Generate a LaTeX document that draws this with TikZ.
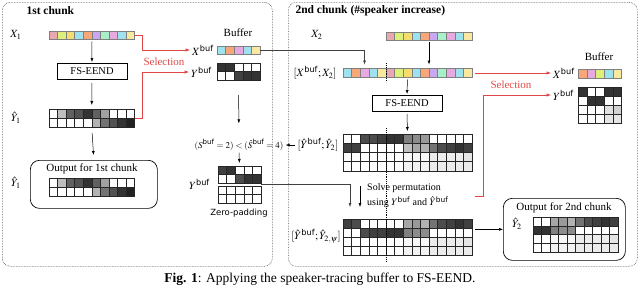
\documentclass[tikz,border=0pt]{standalone}
\usepackage{mathptmx}
\usepackage{amsmath}
\usepackage{fontspec}
\setmainfont{Liberation Serif}
\setsansfont{DejaVu Sans}
\usetikzlibrary{arrows.meta,calc}
\definecolor{cRose}{HTML}{E8A8B0}
\definecolor{cYG}{HTML}{DDF07A}
\definecolor{cYel}{HTML}{F5DC70}
\definecolor{cCyan}{HTML}{9EE2F0}
\definecolor{cOra}{HTML}{F8A878}
\definecolor{cLav}{HTML}{C8A8F0}
\definecolor{cMint}{HTML}{A8F0C8}
\definecolor{cOrc}{HTML}{E8A8E0}
\definecolor{cLY}{HTML}{F8E8A0}
\definecolor{redc}{HTML}{E04848}
\newcommand{\grayrow}[5]{%
  \foreach \v [count=\i from 0] in {#5} {%
    \filldraw[gcell, fill=black!\v] ({#1+\i*#3},{#2}) rectangle ++(#3,#4);
  }}
\newcommand{\colrow}[5]{%
  \foreach \c [count=\i from 0] in {#5} {%
    \filldraw[bcell, fill=\c] ({#1+\i*#3},{#2}) rectangle ++(#3,#4);
  }}
\newcommand{\bufsup}{\textsf{buf}}
\begin{document}
\begin{tikzpicture}[x=1pt,y=-1pt,
  font=\fontsize{11}{13}\selectfont,
  panel/.style={draw=black!70, densely dotted, line width=0.6pt, rounded corners=8pt, anchor=north west, inner sep=0pt},
  fsbox/.style={draw=black, line width=0.9pt, minimum width=70pt, minimum height=16pt, inner sep=0pt, font=\fontsize{10.5}{12}\selectfont},
  outbox/.style={draw=black, line width=0.7pt, rounded corners=9pt, anchor=north west, inner sep=0pt},
  area/.style={anchor=north west, inner sep=0pt, outer sep=0pt},
  gcell/.style={draw=black!85, line width=0.35pt},
  bcell/.style={draw=black!50, line width=0.4pt},
  arr/.style={-{Latex[length=4pt,width=3pt]}, line width=0.5pt},
  redarr/.style={-{Latex[length=4.5pt,width=3.5pt]}, line width=0.6pt, draw=redc},
  gline/.style={draw=black!75, line width=0.6pt},
  dotl/.style={densely dotted, line width=0.9pt},
  lab/.style={inner sep=1pt},
  title/.style={font=\fontsize{11.5}{13}\selectfont\bfseries},
  redlab/.style={text=redc, font=\fontsize{11}{13}\selectfont},
]
\useasboundingbox (0,0) rectangle (640,287);

% panels
\node[panel, minimum width=270pt, minimum height=264pt] (pan1) at (2,2) {};
\node[panel, minimum width=349pt, minimum height=264pt] (pan2) at (288,2) {};
\node[title, anchor=west] (t1) at (23,11) {1st chunk};
\node[title, anchor=west] (t2) at (292,11) {2nd chunk (\#speaker increase)};

% ---------------- left panel ----------------
\node[lab] (lX1) at (16,35) {$X_1$};
\node[area, minimum width=85.5pt, minimum height=8pt] (x1bar) at (49,31.5) {};
\colrow{49}{31.5}{8.55}{8}{cRose,cYG,cYel,cCyan,cOra,cLav,cMint,cOrc,cCyan,cLY}
\node[fsbox] (fs1) at (92,71.5) {FS-EEND};
\node[lab] (lY1) at (16,118) {$\hat{Y}_1$};
\node[area, minimum width=85.5pt, minimum height=18pt] (y1g) at (49,109) {};
\grayrow{49}{109}{8.55}{9}{0,25,62,68,80,62,37,0,0,0}
\grayrow{49}{118}{8.55}{9}{0,0,0,0,0,30,55,68,80,87}
\node[outbox, minimum width=127pt, minimum height=48pt] (out1) at (30,160) {};
\node (out1t) at (92,169) {Output for 1st chunk};
\node[lab] (lY1b) at (16,183) {$\hat{Y}_1$};
\node[area, minimum width=85.5pt, minimum height=18pt] (o1g) at (49,178) {};
\grayrow{49}{178}{8.55}{9}{0,25,62,68,80,62,37,0,0,0}
\grayrow{49}{187}{8.55}{9}{0,0,0,0,0,30,55,68,80,87}

\draw[arr, shorten <=2pt, shorten >=1pt] (x1bar.south) -- (fs1.north);
\draw[arr, shorten <=3pt, shorten >=4pt] (fs1.south) -- (y1g.north);
\draw[arr, shorten <=6pt, shorten >=5pt] (y1g.south) -- (out1.north);

% left buffer
\node (bufL) at (238,33) {Buffer};
\node[lab, anchor=west] (xbL) at (191,50) {$X^{\bufsup}$};
\node[lab, anchor=west] (ybL) at (190,72) {$Y^{\bufsup}$};
\node[area, minimum width=43pt, minimum height=8pt] (xbLbar) at (217,46) {};
\colrow{217}{46}{8.6}{8}{cCyan,cOra,cOrc,cCyan,cLY}
\node[area, minimum width=43pt, minimum height=17pt] (ybLg) at (217,63) {};
\grayrow{217}{63}{8.6}{8.5}{80,80,0,0,0}
\grayrow{217}{71.5}{8.6}{8.5}{0,0,75,80,80}

\draw[redarr, shorten >=1pt] (x1bar.east) -- ++(8,0) |- (xbL.west);
\draw[redarr, shorten >=1pt] (y1g.east) -- ++(8,0) |- (ybL.west);
\node[redlab] (sel1) at (164,62) {Selection};

% middle: comparison and zero padding
\node[lab, font=\fontsize{9}{11}\selectfont] (cmp) at (239,145) {$(S^{\bufsup}=2)<(\hat{S}^{\bufsup}=4)$};
\draw[arr, shorten <=15pt, shorten >=15pt] (ybLg.south) -- (cmp.north);
\node[lab, anchor=west] (ybMl) at (188,184) {$Y^{\bufsup}$};
\node[area, minimum width=43pt, minimum height=37pt] (ybM) at (218,166) {};
\draw[arr, shorten <=1pt, shorten >=3pt] (cmp.south) -- (ybM.north);
\grayrow{218}{166}{8.6}{8.5}{75,80,0,0,0}
\grayrow{218}{174.5}{8.6}{8.5}{0,0,70,80,80}
\grayrow{218}{186}{8.6}{8.5}{0,0,0,0,0}
\grayrow{218}{194.5}{8.6}{8.5}{0,0,0,0,0}
\node[font=\sffamily\fontsize{8.5}{10}\selectfont] (zp) at (239,213) {Zero-padding};

% ---------------- right panel ----------------
\node[lab] (lX2) at (317,35) {$X_2$};
\node[area, minimum width=86pt, minimum height=8pt] (x2bar) at (386,32) {};
\colrow{386}{32}{8.6}{8}{cRose,cYG,cYel,cCyan,cOra,cLav,cMint,cOrc,cCyan,cLY}
\node[lab] (lcat) at (315,73) {$[X^{\bufsup};X_2]$};
\node[area, minimum width=129pt, minimum height=9pt] (cat) at (343,68.5) {};
\colrow{343}{68.5}{8.6}{9}{cCyan,cOra,cOrc,cCyan,cLY,cRose,cYG,cYel,cCyan,cOra,cLav,cMint,cOrc,cCyan,cLY}
\coordinate (catbufN) at (364.5,68.5);
\draw[gline, arr, shorten >=4pt] (xbLbar.east) -| (catbufN);
\draw[arr, shorten <=2pt, shorten >=4pt] (x2bar.south) -- (x2bar.south |- cat.north);

\node[fsbox] (fs2) at (407,103.5) {FS-EEND};
\draw[arr, shorten <=2pt, shorten >=1pt] (cat.south) -- (fs2.north);

\node[lab] (lg1) at (318,145) {$[\hat{Y}^{\bufsup};\hat{Y}_2]$};
\node[area, minimum width=129pt, minimum height=36.8pt] (g1) at (343,134) {};
\draw[arr, shorten <=2pt, shorten >=3pt] (fs2.south) -- (g1.north);
\grayrow{343}{134}{8.6}{9.2}{0,0,70,70,75,80,80,50,45,40,0,0,0,0,0}
\grayrow{343}{143.2}{8.6}{9.2}{75,75,0,0,0,0,0,25,35,30,55,70,75,80,75}
\grayrow{343}{152.4}{8.6}{9.2}{0,0,0,0,0,0,0,3,3,3,8,8,8,8,10}
\grayrow{343}{161.6}{8.6}{9.2}{0,0,0,0,0,0,0,5,5,5,8,8,8,8,8}
\draw[arr, shorten <=1pt, shorten >=1pt] (lg1.west) -- (cmp.east);

\node[anchor=west, align=left, inner sep=0pt, font=\fontsize{10}{15}\selectfont] (solve) at (367,196) {Solve permutation\\using $Y^{\bufsup}$ and $\hat{Y}^{\bufsup}$};
\coordinate (pA) at (350,207);
\coordinate (pB) at (360,207);
\draw[gline, arr] (ybM.east) -| (pA);
\draw[arr, shorten <=15pt] (g1.south -| pB) -- (pB);

\node[lab] (lg2) at (316,236) {$[\hat{Y}^{\bufsup};\hat{Y}_{2,\psi}]$};
\node[area, minimum width=129pt, minimum height=36pt] (g2) at (343,219) {};
\grayrow{343}{219}{8.6}{9}{75,70,0,0,0,0,0,35,40,30,55,70,75,80,75}
\grayrow{343}{228}{8.6}{9}{0,0,70,75,75,80,80,50,45,45,0,0,0,0,0}
\grayrow{343}{237}{8.6}{9}{0,0,0,0,0,0,0,3,3,3,8,8,8,8,10}
\grayrow{343}{246}{8.6}{9}{0,0,0,0,0,0,0,5,5,5,8,8,8,8,8}

\draw[dotl] (386,63) -- (386,82);
\draw[dotl] (386,128) -- (386,262);

% right buffer
\node (bufR) at (599,57) {Buffer};
\node[lab, anchor=west] (xbR) at (552,73) {$X^{\bufsup}$};
\node[lab, anchor=west] (ybR) at (552,95) {$Y^{\bufsup}$};
\node[area, minimum width=43.5pt, minimum height=9pt] (xbRbar) at (578,69) {};
\colrow{578}{69}{8.7}{9}{cOra,cOrc,cYG,cCyan,cLY}
\node[area, minimum width=43.5pt, minimum height=36pt] (ybRg) at (578,87) {};
\grayrow{578}{87}{8.7}{9}{80,0,0,80,80}
\grayrow{578}{96}{8.7}{9}{0,80,80,0,0}
\grayrow{578}{105}{8.7}{9}{0,0,0,12,18}
\grayrow{578}{114}{8.7}{9}{0,0,0,10,10}
\draw[redarr, shorten <=3pt, shorten >=1pt] (cat.east) -- (cat.east -| xbR.west);
\coordinate (rs) at (475,196);
\draw[redarr, shorten >=1pt] (rs) -- ++(8,0) |- (ybR.west);
\node[redlab] (sel2) at (511,85) {Selection};

% output 2
\node[outbox, minimum width=122pt, minimum height=62pt] (out2) at (503,198) {};
\node (out2t) at (564,207.5) {Output for 2nd chunk};
\node[lab] (lY2) at (517,224) {$\hat{Y}_2$};
\node[area, minimum width=85pt, minimum height=35.2pt] (o2g) at (533,217) {};
\grayrow{533}{217}{8.5}{8.8}{0,0,35,40,30,55,70,75,80,75}
\grayrow{533}{225.8}{8.5}{8.8}{80,80,50,45,45,0,0,0,0,0}
\grayrow{533}{234.6}{8.5}{8.8}{0,0,3,3,3,8,8,8,8,10}
\grayrow{533}{243.4}{8.5}{8.8}{0,0,5,5,5,8,8,8,8,8}
\draw[arr, shorten <=3pt] (g2.east |- out2.west) -- (out2.west);

% caption
\node[font=\fontsize{13.5}{15}\selectfont] (cap) at (320,279) {\textbf{Fig. 1}: Applying the speaker-tracing buffer to FS-EEND.};
\end{tikzpicture}
\end{document}
